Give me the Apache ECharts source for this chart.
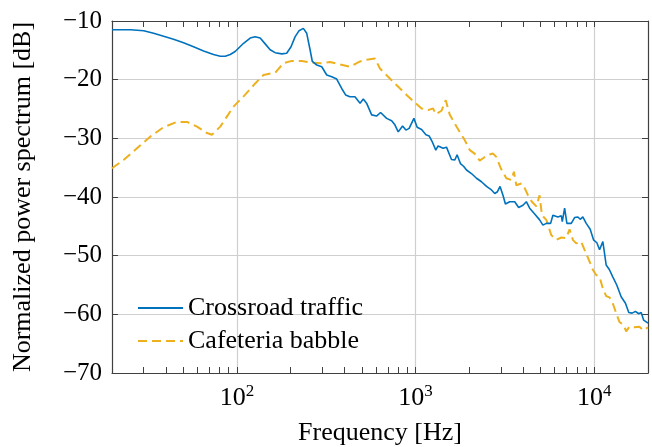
<!DOCTYPE html>
<html>
<head>
<meta charset="utf-8">
<script src="https://cdn.jsdelivr.net/npm/echarts@6/dist/echarts.min.js"></script>
<style>
  html, body { margin: 0; padding: 0; background: #fff; }
  #chart { width: 652px; height: 447px; }
</style>
</head>
<body>
<div id="chart"></div>
<script>
// Spectrum of crossroad traffic noise (Hz, dB)
const crossroadFreq = [20, 25.4, 30.1, 34.2, 38.9, 44.2, 50.3, 57.2, 65.1, 74.0,
  80.7, 86.1, 91.8, 97.8, 109, 118.7, 126.5, 135, 144, 153.5,
  163.7, 178.4, 190, 201, 211.6, 222.9, 235.5, 246, 256.8, 264.4,
  280, 298.5, 318.4, 339.6, 362, 386, 406, 429, 458,
  489, 510, 532, 568, 605, 637, 689, 735, 766, 800, 846, 883, 921,
  979, 1021, 1081, 1143, 1191, 1245, 1298, 1337, 1426, 1490,
  1589, 1659, 1708, 1783, 1862, 1928, 2055, 2193, 2339, 2495,
  2661, 2775, 2873, 2971, 3085, 3184, 3365, 3589, 3664, 3776,
  3991, 4169, 4353, 4642, 4948, 5162, 5395, 5701, 5872, 6262,
  6545, 6628, 6829, 7031, 7441, 7766, 8098, 8350, 8634, 9020,
  9495, 9910, 10347, 10715, 11176, 11670, 12170, 12700, 13370, 14150,
  14960, 15610, 16300, 17010, 17750, 18320, 18920, 20000];
const crossroadDb = [-11.5, -11.5, -11.65, -12.1, -12.6, -13.1, -13.7, -14.4, -15.1, -15.7,
  -16.0, -16.0, -15.7, -15.2, -13.8, -12.9, -12.7, -12.9, -13.9, -14.9,
  -15.4, -15.6, -15.5, -14.4, -12.7, -11.65, -11.25, -12.1, -14.9, -16.9,
  -17.5, -17.8, -19.2, -19.5, -19.9, -21.5, -22.6, -22.9, -22.9,
  -24.0, -23.3, -24.0, -26.0, -26.2, -25.6, -26.6, -27.0, -27.7, -28.9, -27.9, -28.6, -28.3,
  -26.6, -28.1, -28.5, -29.4, -29.6, -30.7, -32.0, -31.3, -31.7, -31.5,
  -33.6, -33.7, -32.8, -34.3, -34.8, -35.4, -36.0, -36.8, -37.4, -38.2,
  -38.8, -39.4, -39.1, -38.2, -39.7, -41.2, -40.8, -40.8, -40.5, -41.8,
  -41.4, -40.8, -41.9, -42.9, -43.9, -44.8, -44.5, -44.5, -43.1, -43.4,
  -43.2, -44.2, -41.9, -44.5, -44.5, -43.5, -43.4, -43.8, -43.4, -44.5,
  -45.5, -47.3, -47.8, -49.0, -47.6, -51.6, -52.4, -53.6, -55.0, -57.0,
  -58.1, -59.7, -59.8, -59.5, -59.9, -59.7, -61.0, -61.5];

// Spectrum of cafeteria babble noise (Hz, dB)
const cafeteriaFreq = [20, 23.2, 27.6, 32.8, 38.9, 46.2, 52.6, 59.8, 68, 72.5,
  80.7, 87.9, 95.7, 111, 127, 141, 164, 182, 203, 231,
  262, 299, 332, 378, 429, 489, 532, 593, 632, 718,
  800, 891, 991, 1081, 1175, 1253, 1298, 1397, 1476, 1555,
  1695, 1884, 2011, 2143, 2286, 2387, 2546, 2716, 2838, 2999,
  3223, 3437, 3554, 3664, 3908, 4083, 4259, 4480, 4742, 4948,
  5097, 5395, 5750, 6137, 6545, 6979, 7278, 7592, 7930, 8454,
  8831, 9330, 9819, 10260, 10715, 11176, 11670, 12170, 12700, 13270,
  13840, 14580, 15100, 15750, 16790, 17900, 18840, 20000];
const cafeteriaDb = [-35.1, -33.7, -31.7, -29.7, -28.1, -27.2, -27.2, -28.0, -29.1, -29.4,
  -28.0, -26.3, -24.6, -22.6, -20.6, -19.2, -18.8, -17.2, -16.8, -16.8,
  -17.1, -17.2, -17.0, -17.4, -17.8, -16.9, -16.6, -16.4, -18.1, -19.8,
  -21.2, -22.6, -23.9, -24.9, -25.2, -24.9, -25.9, -25.3, -23.5, -26.0,
  -28.0, -30.3, -32.0, -32.6, -33.8, -33.4, -32.8, -32.6, -33.2, -35.1,
  -36.8, -37.1, -35.7, -38.0, -37.7, -38.5, -39.7, -40.8, -41.6, -39.7,
  -43.1, -43.9, -46.5, -47.3, -46.9, -47.0, -45.5, -47.3, -47.9, -47.6,
  -49.0, -50.7, -52.4, -53.3, -53.6, -55.6, -56.9, -57.1, -58.1, -59.8,
  -61.3, -61.8, -62.9, -62.1, -62.2, -62.1, -62.7, -62.2];

// Axis ticks
const freqMajor = [100, 1000, 10000];
const freqTicks = [30, 40, 50, 60, 70, 80, 90, 100,
  200, 300, 400, 500, 600, 700, 800, 900, 1000,
  2000, 3000, 4000, 5000, 6000, 7000, 8000, 9000, 10000];
const dbTicks = [-70, -60, -50, -40, -30, -20, -10];

const FONT = '"Liberation Serif", "DejaVu Serif", serif';
const FRAME = '#404040';
const GRID = '#cfcfcf';

const zip = (xs, ys) => xs.map((x, i) => [x, ys[i]]);

const baseX = {
  type: 'log',
  logBase: 10,
  min: 20,
  max: 20000,
  axisLine: { show: true, onZero: false, lineStyle: { color: FRAME, width: 1.2 } },
  axisTick: { show: true, inside: true, length: 6, customValues: freqTicks,
              lineStyle: { color: FRAME, width: 1 } },
  splitLine: { show: false },
  axisLabel: { show: false },
  minorTick: { show: false },
  minorSplitLine: { show: false }
};

const baseY = {
  type: 'value',
  min: -70,
  max: -10,
  interval: 10,
  axisLine: { show: true, onZero: false, lineStyle: { color: FRAME, width: 1.2 } },
  axisTick: { show: true, inside: true, length: 6, customValues: dbTicks,
              lineStyle: { color: FRAME, width: 1 } }
};

const chart = echarts.init(document.getElementById('chart'), null, { renderer: 'canvas' });

chart.setOption({
  animation: false,
  backgroundColor: '#ffffff',
  grid: { left: 112, right: 4, top: 21, bottom: 74, containLabel: false, outerBoundsMode: 'none' },
  legend: {
    orient: 'vertical',
    left: 137,
    top: 293,
    itemWidth: 45,
    itemHeight: 14,
    itemGap: 3,
    padding: 0,
    itemStyle: { color: 'transparent', borderWidth: 0, opacity: 0 },
    textStyle: { fontFamily: FONT, fontSize: 26, color: '#000', lineHeight: 30 },
    data: ['Crossroad traffic', 'Cafeteria babble']
  },
  xAxis: [
    // bottom axis: frame, minor ticks, decade labels
    Object.assign({}, baseX, {
      position: 'bottom',
      name: 'Frequency [Hz]',
      nameLocation: 'middle',
      nameGap: 47,
      nameTextStyle: { fontFamily: FONT, fontSize: 26, color: '#000' },
      axisLabel: {
        show: true,
        margin: 10,
        customValues: freqMajor,
        formatter: v => '{b|10}{s|' + Math.round(Math.log10(v)) + '}',
        rich: {
          b: { fontFamily: FONT, fontSize: 26, color: '#000' },
          s: { fontFamily: FONT, fontSize: 17, color: '#000', padding: [0, 0, 14, 0] }
        }
      }
    }),
    // top axis: frame and mirrored ticks
    Object.assign({}, baseX, { position: 'top' }),
    // decade grid lines
    Object.assign({}, baseX, {
      position: 'bottom',
      axisLine: { show: false },
      axisTick: { show: false, customValues: freqMajor },
      splitLine: { show: true, lineStyle: { color: GRID, width: 1.2 } }
    })
  ],
  yAxis: [
    Object.assign({}, baseY, {
      position: 'left',
      name: 'Normalized power spectrum [dB]',
      nameLocation: 'middle',
      nameGap: 76,
      nameTextStyle: { fontFamily: FONT, fontSize: 26, color: '#000' },
      splitLine: { show: true, lineStyle: { color: GRID, width: 1.2 } },
      axisLabel: {
        show: true,
        margin: 10,
        fontFamily: FONT,
        fontSize: 25,
        color: '#000',
        formatter: v => String(v).replace('-', '\u2212')
      }
    }),
    Object.assign({}, baseY, {
      position: 'right',
      splitLine: { show: false },
      axisLabel: { show: false }
    })
  ],
  series: [
    {
      name: 'Crossroad traffic',
      type: 'line',
      xAxisIndex: 0,
      yAxisIndex: 0,
      symbol: 'none',
      smooth: false,
      data: zip(crossroadFreq, crossroadDb),
      lineStyle: { color: '#0072BD', width: 1.6 },
      itemStyle: { color: '#0072BD' },
      z: 3
    },
    {
      name: 'Cafeteria babble',
      type: 'line',
      xAxisIndex: 0,
      yAxisIndex: 0,
      symbol: 'none',
      smooth: false,
      data: zip(cafeteriaFreq, cafeteriaDb),
      lineStyle: { color: '#EDB120', width: 2, type: [9, 5] },
      itemStyle: { color: '#EDB120' },
      z: 2
    }
  ]
});
</script>
</body>
</html>
